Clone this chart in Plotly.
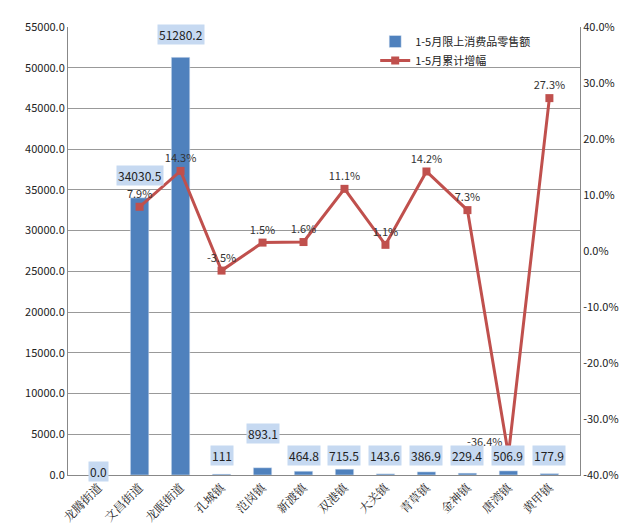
import plotly.graph_objects as go

towns = ["龙腾街道", "文昌街道", "龙眠街道", "孔城镇", "范岗镇", "新渡镇", "双港镇",
         "大关镇", "青草镇", "金神镇", "唐湾镇", "黄甲镇"]
sales = [0.0, 34030.5, 51280.2, 111, 893.1, 464.8, 715.5, 143.6, 386.9, 229.4, 506.9, 177.9]
sales_text = ["0.0", "34030.5", "51280.2", "111", "893.1", "464.8", "715.5",
              "143.6", "386.9", "229.4", "506.9", "177.9"]
growth = [None, 7.9, 14.3, -3.5, 1.5, 1.6, 11.1, 1.1, 14.2, 7.3, -36.4, 27.3]
left_ticks = list(range(0, 55001, 5000))
right_ticks = list(range(-40, 41, 10))

fig = go.Figure()
fig.add_trace(go.Bar(
    x=towns, y=sales, name="1-5月限上消费品零售额",
    marker=dict(color="#4F81BD"), width=0.45,
))
pos = ["top center"] * len(growth)
pos[10] = "top left"
fig.add_trace(go.Scatter(
    x=towns, y=growth, name="1-5月累计增幅", yaxis="y2",
    mode="lines+markers+text",
    text=[None if g is None else f"{g:.1f}%" for g in growth],
    textposition=pos, textfont=dict(size=11, color="#333"),
    line=dict(color="#C0504D", width=3),
    marker=dict(symbol="square", size=8, color="#C0504D"),
))

# bar value labels with light blue boxes
for t, v, s in zip(towns, sales, sales_text):
    if v > 10000:
        y, shift = v, 12
    elif v > 800:
        y, shift = 0, 42
    elif v == 0:
        y, shift = 0, 4
    else:
        y, shift = 0, 20
    fig.add_annotation(x=t, y=y, yshift=shift, text=s, showarrow=False,
                       bgcolor="#C6D9F1", font=dict(size=12, color="#222"),
                       yanchor="bottom" if v > 10000 else "middle")

fig.update_layout(
    width=634, height=527,
    margin=dict(l=60, r=62, t=10, b=60),
    paper_bgcolor="white", plot_bgcolor="white",
    font=dict(family="Noto Sans CJK SC", size=11, color="#222"),
    xaxis=dict(tickangle=-45, showline=True, linecolor="#888",
               tickfont=dict(family="Noto Serif CJK SC, Noto Sans CJK SC", size=12)),
    yaxis=dict(range=[0, 55000], tickvals=left_ticks,
               ticktext=[f"{v:.1f}" for v in left_ticks], showgrid=True,
               gridcolor="#999", showline=True, linecolor="#888", zeroline=False),
    yaxis2=dict(range=[-40, 40], tickvals=right_ticks,
                ticktext=[f"{v:.1f}%" for v in right_ticks],
                overlaying="y", side="right", showgrid=False, showline=True,
                linecolor="#888", zeroline=False),
    legend=dict(x=0.6, y=1.0, xanchor="left", yanchor="top",
                bgcolor="rgba(255,255,255,0)", font=dict(size=11)),
)

fig.write_html("out.html")
